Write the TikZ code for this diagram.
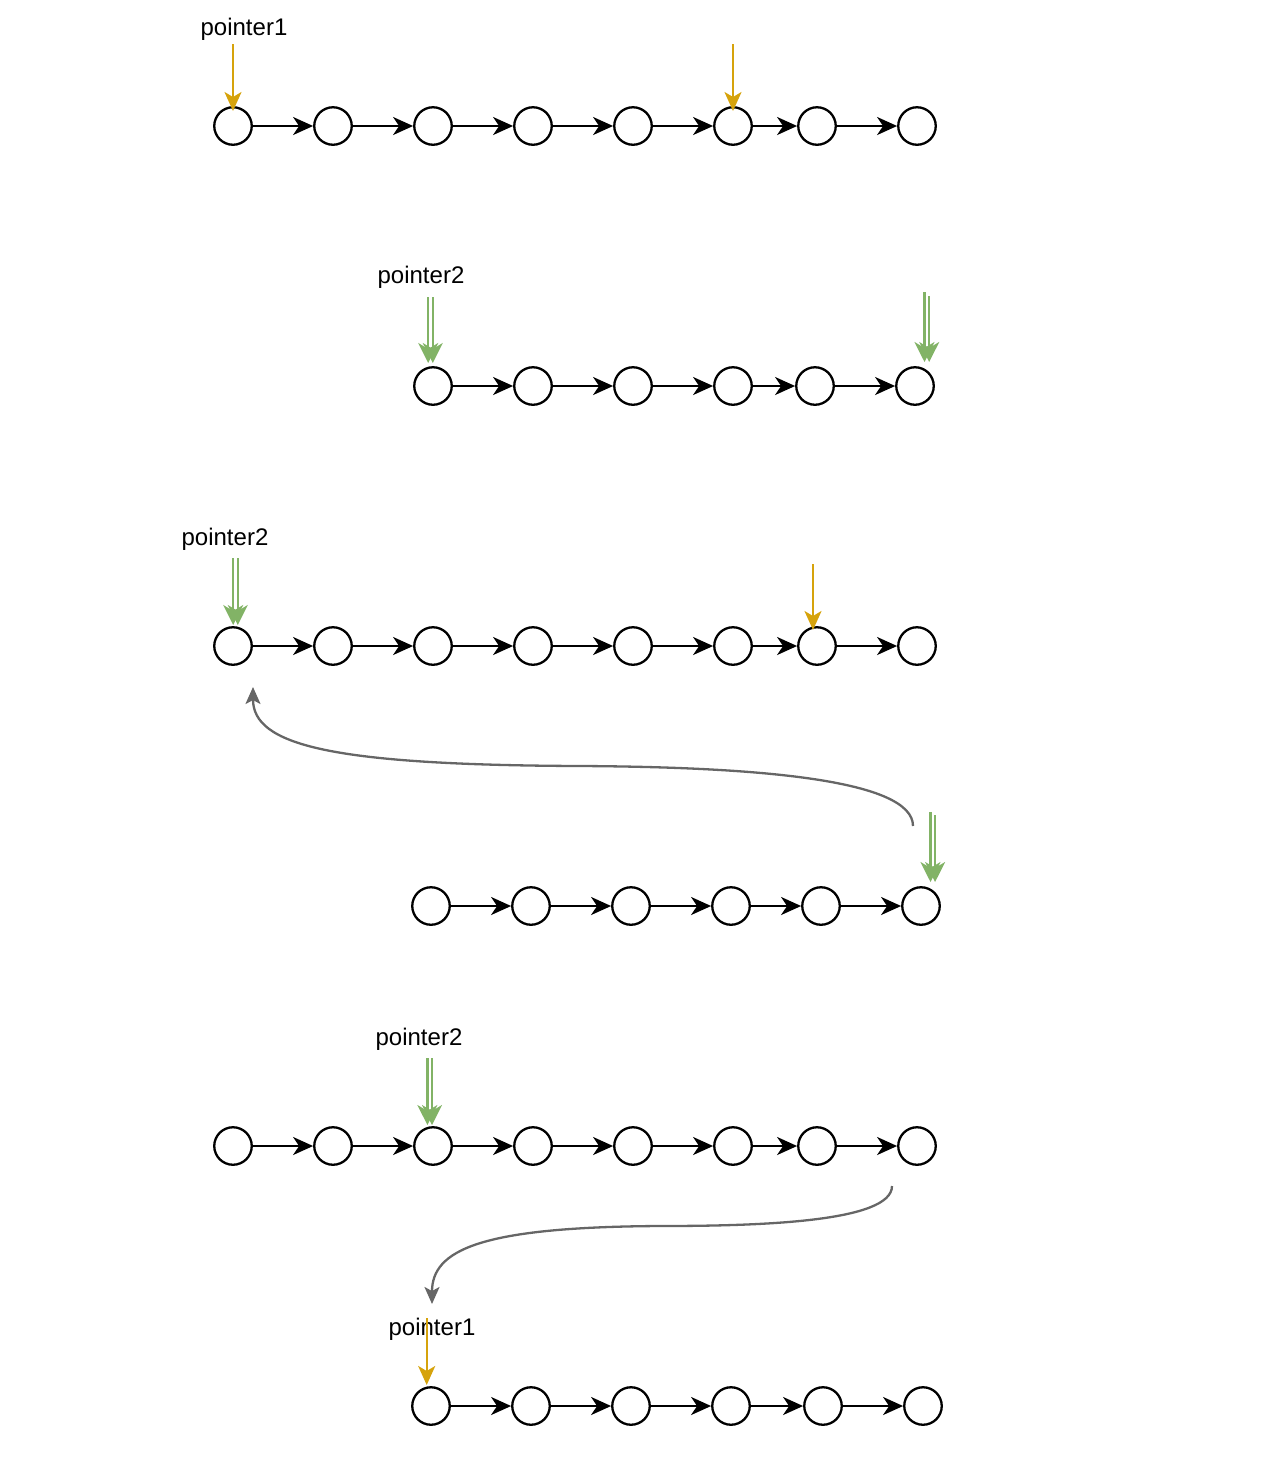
\documentclass[tikz,border=0pt]{standalone}
\usepackage{fontspec}
\setmainfont{Liberation Sans}
\usetikzlibrary{arrows.meta}
\definecolor{gold}{HTML}{D6A30C}
\definecolor{grn}{HTML}{82B366}
\definecolor{cgray}{HTML}{666666}
\begin{document}
\begin{tikzpicture}[x=1pt,y=-1pt,
  lnode/.style={circle, draw=black, line width=2.3pt, minimum size=37.5pt, inner sep=0pt},
  link/.style={line width=2.3pt, -{Stealth[length=20pt,width=18pt,inset=6pt]}},
  goldptr/.style={draw=gold, line width=2.3pt, -{Stealth[length=19pt,width=17pt,inset=5pt,fill=gold]}},
  grnptr/.style={draw=grn, line width=2.2pt, -{Stealth[length=20pt,width=20pt,inset=6pt,fill=grn]}},
  curv/.style={draw=cgray, line width=2.3pt, -{Stealth[length=17pt,width=15pt,inset=4pt,fill=cgray]}},
  lbl/.style={font=\fontsize{24}{28}\selectfont, inner sep=0pt}]
\useasboundingbox (0,0) rectangle (1270,1460);

% ---------- row 1
\foreach \x [count=\i] in {233,333,433,533,633,733,817,917}
  \node[lnode] (a\i) at (\x,126) {};
\foreach \i [evaluate=\i as \j using int(\i+1)] in {1,...,7}
  \draw[link] (a\i) -- (a\j);
\node[lbl] (la) at (244,29) {pointer1};
\coordinate (pa1s) at (233,44);  \coordinate (pa1e) at (233,111);
\coordinate (pa2s) at (733,44);  \coordinate (pa2e) at (733,111);
\draw[goldptr] (pa1s) -- (pa1e);
\draw[goldptr] (pa2s) -- (pa2e);

% ---------- row 2
\foreach \x [count=\i] in {433,533,633,733,815,915}
  \node[lnode] (b\i) at (\x,386) {};
\foreach \i [evaluate=\i as \j using int(\i+1)] in {1,...,5}
  \draw[link] (b\i) -- (b\j);
\node[lbl] (lb) at (421,277) {pointer2};
\coordinate (pb1s) at (428.2,297); \coordinate (pb1e) at (428.2,363);
\coordinate (pb2s) at (432.8,297); \coordinate (pb2e) at (432.8,363);
\draw[grnptr] (pb1s) -- (pb1e);
\draw[grnptr] (pb2s) -- (pb2e);
\coordinate (pb3s) at (924.5,292); \coordinate (pb3e) at (924.5,362);
\coordinate (pb4s) at (929.2,296); \coordinate (pb4e) at (929.2,362);
\draw[grnptr] (pb3s) -- (pb3e);
\draw[grnptr] (pb4s) -- (pb4e);

% ---------- row 3
\foreach \x [count=\i] in {233,333,433,533,633,733,817,917}
  \node[lnode] (c\i) at (\x,646) {};
\foreach \i [evaluate=\i as \j using int(\i+1)] in {1,...,7}
  \draw[link] (c\i) -- (c\j);
\node[lbl] (lc) at (225,539) {pointer2};
\coordinate (pc1s) at (233.2,558); \coordinate (pc1e) at (233.2,625);
\coordinate (pc2s) at (237.8,558); \coordinate (pc2e) at (237.8,625);
\draw[grnptr] (pc1s) -- (pc1e);
\draw[grnptr] (pc2s) -- (pc2e);
\coordinate (pc3s) at (813,564); \coordinate (pc3e) at (813,630);
\draw[goldptr] (pc3s) -- (pc3e);

% ---------- curve 1
\coordinate (k1s) at (913,826);
\coordinate (k1e) at (253,687);
\draw[curv] (k1s) .. controls (913,780) and (760,767) .. (580,766)
                  .. controls (330,765) and (253,745) .. (k1e);

% ---------- row 4
\foreach \x [count=\i] in {431,531,631,731,821,921}
  \node[lnode] (d\i) at (\x,906) {};
\foreach \i [evaluate=\i as \j using int(\i+1)] in {1,...,5}
  \draw[link] (d\i) -- (d\j);
\coordinate (pd1s) at (930.5,812); \coordinate (pd1e) at (930.5,882);
\coordinate (pd2s) at (935.1,815); \coordinate (pd2e) at (935.1,882);
\draw[grnptr] (pd1s) -- (pd1e);
\draw[grnptr] (pd2s) -- (pd2e);

% ---------- row 5
\foreach \x [count=\i] in {233,333,433,533,633,733,817,917}
  \node[lnode] (e\i) at (\x,1146) {};
\foreach \i [evaluate=\i as \j using int(\i+1)] in {1,...,7}
  \draw[link] (e\i) -- (e\j);
\node[lbl] (le) at (419,1039) {pointer2};
\coordinate (pe1s) at (427.4,1058); \coordinate (pe1e) at (427.4,1125);
\coordinate (pe2s) at (432,1058);   \coordinate (pe2e) at (432,1125);
\draw[grnptr] (pe1s) -- (pe1e);
\draw[grnptr] (pe2s) -- (pe2e);

% ---------- curve 2
\coordinate (k2s) at (892,1186);
\coordinate (k2e) at (432,1304);
\draw[curv] (k2s) .. controls (892,1222) and (760,1226) .. (660,1226)
                  .. controls (480,1227) and (432,1250) .. (k2e);

% ---------- row 6
\foreach \x [count=\i] in {431,531,631,731,823,923}
  \node[lnode] (f\i) at (\x,1406) {};
\foreach \i [evaluate=\i as \j using int(\i+1)] in {1,...,5}
  \draw[link] (f\i) -- (f\j);
\node[lbl] (lf) at (432,1329) {pointer1};
\coordinate (pf1s) at (426.7,1318); \coordinate (pf1e) at (426.7,1385);
\draw[goldptr] (pf1s) -- (pf1e);
\end{tikzpicture}
\end{document}
